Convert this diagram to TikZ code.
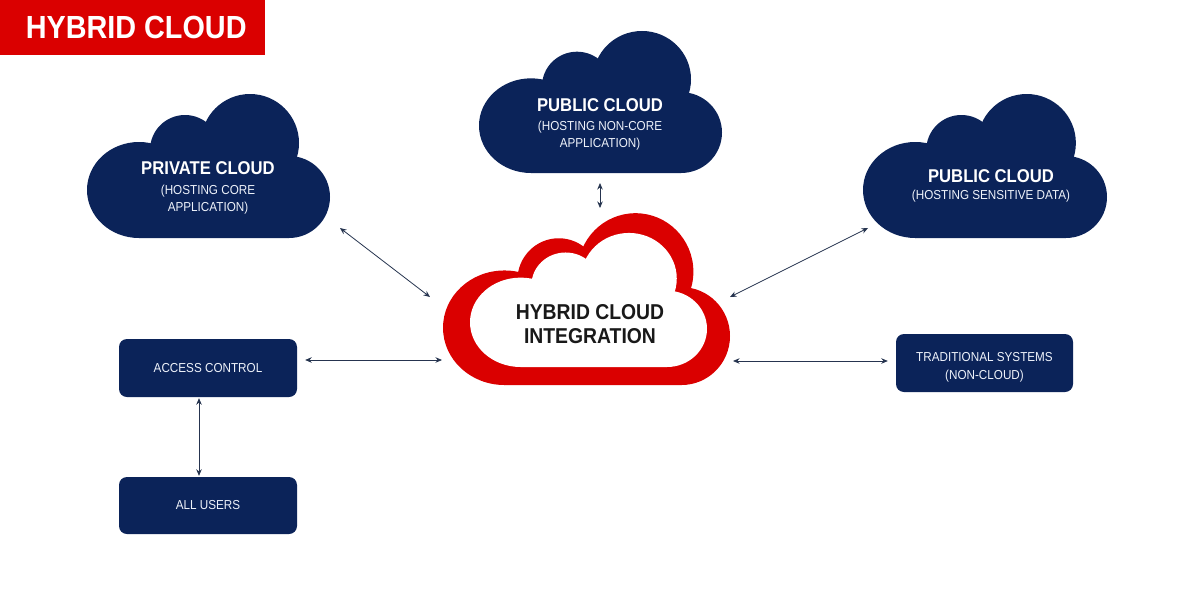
\documentclass[tikz,border=0pt]{standalone}
\usepackage{fontspec}
\setmainfont{Liberation Sans}[FakeStretch=0.9]
\usetikzlibrary{arrows.meta,calc}
\definecolor{navy}{HTML}{0B2359}
\definecolor{hred}{HTML}{DA0000}
\definecolor{arrowc}{HTML}{26344F}
\definecolor{paletext}{HTML}{EEF2FA}
\newcommand\cloudshape[5]{%
  \begin{scope}[shift={(#1,#2)}, xscale=#3/243, yscale=#4/145]
    \fill[#5] (52,97) ellipse[x radius=52, y radius=48];
    \fill[#5] (98,57) circle[radius=35];
    \fill[#5] (163,50) circle[radius=49];
    \fill[#5] (202,104) circle[radius=41];
    \fill[#5] (52,97) -- (98,57) -- (163,50) -- (202,104) -- (202,145) -- (52,145) -- cycle;
  \end{scope}}
\begin{document}
\begin{tikzpicture}[x=1pt,y=-1pt,
  ctitle/.style={text=white, font=\fontsize{18.5}{22}\selectfont\bfseries, inner sep=0pt},
  csub/.style={text=paletext, font=\fontsize{13}{17}\selectfont, align=center, inner sep=0pt},
  boxnode/.style={fill=navy, rounded corners=8pt, text=paletext, font=\fontsize{13}{18}\selectfont, inner sep=0pt},
  arr/.style={{Stealth[length=6.5pt,width=5.5pt]}-{Stealth[length=6.5pt,width=5.5pt]}, line width=0.8pt, draw=arrowc}]
\useasboundingbox (0,0) rectangle (1200,600);
\fill[white] (0,0) rectangle (1200,600);
% title banner
\node[fill=hred, minimum width=265pt, minimum height=55pt, anchor=north west, inner sep=0pt,
      text=white, font=\fontsize{32}{36}\selectfont\bfseries] (title) at (0,0) {\hspace*{7pt}HYBRID CLOUD};
% clouds
\cloudshape{87}{93}{243}{145}{navy}
\cloudshape{479}{30}{243}{143}{navy}
\cloudshape{863}{93}{244}{145}{navy}
\cloudshape{443}{212}{287}{173}{hred}
\cloudshape{470}{232}{237}{135}{white}
% cloud texts
\node[ctitle] (priv) at (208,168) {PRIVATE CLOUD};
\node[csub] (privsub) at (208,199.5) {(HOSTING CORE\\APPLICATION)};
\node[ctitle] (pubt) at (600,105) {PUBLIC CLOUD};
\node[csub] (pubtsub) at (600,136) {(HOSTING NON-CORE\\APPLICATION)};
\node[ctitle] (pubr) at (991,176) {PUBLIC CLOUD};
\node[csub] (pubrsub) at (991,196) {(HOSTING SENSITIVE DATA)};
\node[text=black!90, font=\fontsize{21.5}{24}\selectfont\bfseries, align=center, inner sep=0pt] (hyb) at (590,324) {HYBRID CLOUD\\INTEGRATION};
% boxes
\node[boxnode, minimum width=178pt, minimum height=58pt] (acc) at (208,368) {ACCESS CONTROL};
\node[boxnode, minimum width=178pt, minimum height=57pt] (users) at (208,505.5) {ALL USERS};
\node[boxnode, minimum width=177pt, minimum height=58pt] (trad) at (984.5,363)
  {\raisebox{-4pt}[\height][\depth]{\renewcommand\arraystretch{1}\begin{tabular}{@{}c@{}}TRADITIONAL SYSTEMS\\(NON-CLOUD)\end{tabular}}};
% connectors
\draw[arr] ($(priv)+(132,60)$) -- ($(hyb)+(-160,-27)$);
\draw[arr] ($(pubt)+(0,78)$) -- ($(hyb)+(10,-116)$);
\draw[arr] ($(pubr)+(-123,52)$) -- ($(hyb)+(140,-27)$);
\draw[arr] ($(acc.east)+(8,-8)$) -- ($(hyb)+(-148,36)$);
\draw[arr] ($(hyb)+(143,37)$) -- ($(trad.west)+(-8,-2)$);
\draw[arr] ($(acc.south)+(-9,1)$) -- ($(users.north)+(-9,-1)$);
\end{tikzpicture}
\end{document}
